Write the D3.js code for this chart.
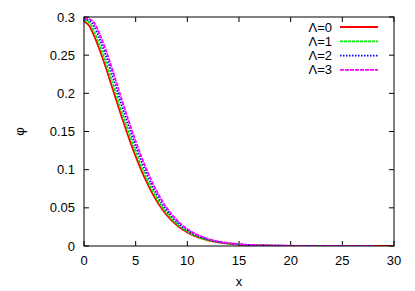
<!doctype html>
<html lang="en">
<head>
  <meta charset="utf-8">
  <title>phi</title>
  <style>
    body { margin: 0; background: #fff; }
    text { font-family: "Liberation Sans", Arial, sans-serif; font-size: 13px; fill: #000; }
    .frame { fill: none; stroke: #000; stroke-width: 1; }
    .tick { stroke: #000; stroke-width: 1; }
    .curve { fill: none; stroke-width: 1.8; }
  </style>
</head>
<body>
  <div id="chart"></div>
  <script src="https://cdn.jsdelivr.net/npm/d3@7"></script>
  <script>
// values
var xs = [0, 0.5, 1, 1.5, 2, 2.5, 3, 3.5, 4, 4.5, 5, 5.5, 6, 6.5, 7, 7.5, 8, 8.5, 9, 9.5, 10,
          11, 12, 13, 14, 15, 16, 18, 20, 25, 28, 30];
var phi0 = [0.294, 0.2885, 0.2745, 0.2575, 0.2385, 0.2175, 0.1962, 0.175, 0.1548, 0.1355, 0.1175, 0.1008,
            0.0855, 0.0718, 0.0598, 0.0494, 0.0406, 0.0332, 0.027, 0.0219, 0.0177,
            0.0115, 0.0074, 0.0047, 0.003, 0.0019, 0.0012, 0.0005, 0.0002, 0.00003, 0, 0];
var phi1 = [0.2953, 0.2928, 0.2803, 0.2636, 0.2453, 0.2247, 0.2034, 0.182, 0.1615, 0.1418, 0.1234, 0.1062,
            0.0904, 0.0762, 0.0636, 0.0527, 0.0434, 0.0355, 0.0289, 0.0235, 0.0189,
            0.0124, 0.008, 0.0051, 0.0032, 0.0021, 0.0013, 0.0006, 0.0002, 0.00004, 0, null];
var phi2 = [0.2966, 0.2955, 0.2876, 0.2717, 0.2539, 0.2341, 0.2126, 0.1911, 0.170, 0.150, 0.1309, 0.1131,
            0.0968, 0.0818, 0.0684, 0.0568, 0.0468, 0.0383, 0.0313, 0.0254, 0.0207,
            0.0135, 0.0087, 0.0055, 0.0035, 0.0023, 0.0014, 0.0006, 0.00025, 0.00005, 0, null];
var phi3 = [0.2978, 0.2972, 0.2921, 0.2779, 0.2607, 0.2415, 0.2202, 0.1987, 0.1772, 0.1567, 0.1372, 0.119,
            0.1021, 0.0866, 0.0727, 0.0605, 0.05, 0.0411, 0.0336, 0.0273, 0.0222,
            0.0146, 0.0094, 0.006, 0.0038, 0.0024, 0.0015, 0.0007, 0.0003, 0.00006, 0, null];
var seriesNames = ["\u039B=0", "\u039B=1", "\u039B=2", "\u039B=3"];
var xTicks = [0, 5, 10, 15, 20, 25, 30];
var yTicks = [0, 0.05, 0.1, 0.15, 0.2, 0.25, 0.3];

(function(){
  var width = 415, height = 291;
  var left = 84, right = 394, top = 17, bottom = 246;
  var colors = ["#ff0000", "#00ee00", "#0000ff", "#ff00ff"];
  var dashes = [null, "3,1", "1.5,1.5", "4,1"];
  var allSeries = [phi0, phi1, phi2, phi3];

  var x = d3.scaleLinear().domain([0, 30]).range([left, right]);
  var y = d3.scaleLinear().domain([0, 0.3]).range([bottom, top]);

  var svg = d3.select("#chart").append("svg")
      .attr("width", width)
      .attr("height", height);

  svg.append("clipPath").attr("id", "clip")
    .append("rect")
      .attr("x", left).attr("y", top - 2)
      .attr("width", right - left).attr("height", bottom - top + 2);

  // ticks, mirrored on all four sides, pointing inward
  var tl = 5;
  xTicks.forEach(function(t) {
    svg.append("line").attr("class", "tick")
      .attr("x1", x(t)).attr("x2", x(t)).attr("y1", bottom).attr("y2", bottom - tl);
    svg.append("line").attr("class", "tick")
      .attr("x1", x(t)).attr("x2", x(t)).attr("y1", top).attr("y2", top + tl);
    svg.append("text")
      .attr("x", x(t)).attr("y", bottom + 19)
      .attr("text-anchor", "middle")
      .text(t);
  });
  yTicks.forEach(function(t) {
    svg.append("line").attr("class", "tick")
      .attr("x1", left).attr("x2", left + tl).attr("y1", y(t)).attr("y2", y(t));
    svg.append("line").attr("class", "tick")
      .attr("x1", right).attr("x2", right - tl).attr("y1", y(t)).attr("y2", y(t));
    svg.append("text")
      .attr("x", left - 9).attr("y", y(t) + 4.5)
      .attr("text-anchor", "end")
      .text(t);
  });

  var line = d3.line()
      .defined(function(d) { return d[1] != null; })
      .x(function(d) { return x(d[0]); })
      .y(function(d) { return y(d[1]); })
      .curve(d3.curveMonotoneX);

  var plot = svg.append("g").attr("clip-path", "url(#clip)");
  allSeries.forEach(function(s, i) {
    plot.append("path")
      .attr("class", "curve")
      .attr("stroke", colors[i])
      .attr("stroke-dasharray", dashes[i])
      .attr("d", line(xs.map(function(v, j) { return [v, s[j]]; })));
  });

  svg.append("rect").attr("class", "frame")
    .attr("x", left).attr("y", top)
    .attr("width", right - left).attr("height", bottom - top);

  // legend
  seriesNames.forEach(function(name, i) {
    var ly = 27 + i * 14.3;
    svg.append("text")
      .attr("x", 332).attr("y", ly + 4.5)
      .attr("text-anchor", "end")
      .text(name);
    svg.append("line")
      .attr("class", "curve")
      .attr("x1", 340).attr("x2", 378)
      .attr("y1", ly).attr("y2", ly)
      .attr("stroke", colors[i])
      .attr("stroke-dasharray", dashes[i]);
  });

  svg.append("text")
    .attr("x", (left + right) / 2).attr("y", 286)
    .attr("text-anchor", "middle")
    .text("x");
  svg.append("text")
    .attr("transform", "translate(24," + ((top + bottom) / 2) + ") rotate(-90)")
    .attr("text-anchor", "middle")
    .text("\u03C6");
})();
  </script>
</body>
</html>
